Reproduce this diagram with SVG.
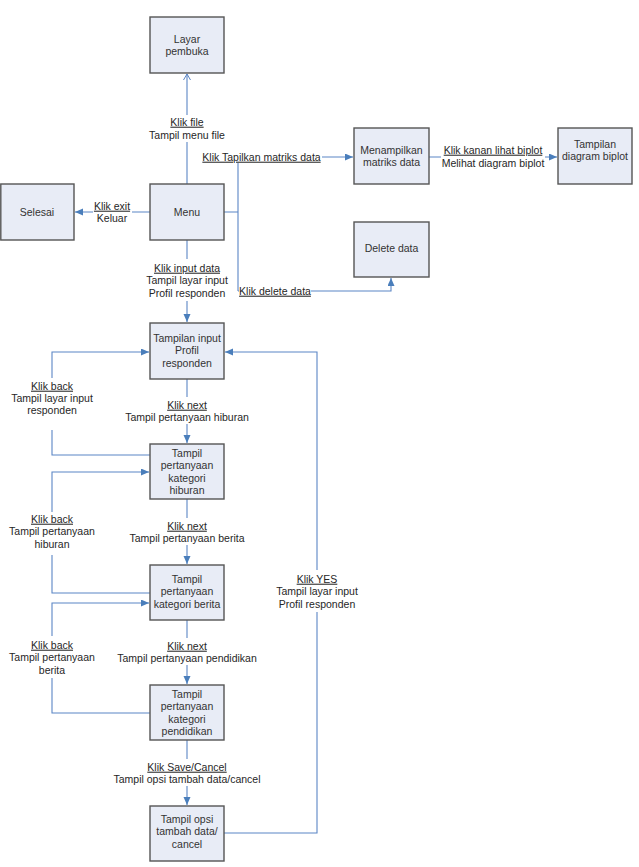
<svg xmlns="http://www.w3.org/2000/svg" width="639" height="867" viewBox="0 0 639 867">
<defs>
<style>
.box{fill:#E8ECF6;stroke:#555555;stroke-width:1.4}
.bt{font-family:"Liberation Sans",Arial,sans-serif;font-size:10.5px;fill:#333333;text-anchor:middle}
.lt{font-family:"Liberation Sans",Arial,sans-serif;font-size:10.5px;fill:#262626;text-anchor:middle}
.u{text-decoration:underline}
.c{fill:none;stroke:#5B86C5;stroke-width:1.1}
.bg{fill:#FFFFFF}
</style>
<marker id="ah" markerUnits="userSpaceOnUse" markerWidth="9" markerHeight="8" refX="8" refY="3.5" orient="auto">
<path d="M0,0 L8,3.5 L0,7 z" fill="#4A7EBB"/>
</marker>
<marker id="ao" markerUnits="userSpaceOnUse" markerWidth="9" markerHeight="9" refX="7" refY="4" orient="auto">
<path d="M1,0.5 L7,4 L1,7.5" fill="none" stroke="#5B86C5" stroke-width="1"/>
</marker>
</defs>
<rect width="639" height="867" fill="#FFFFFF"/>
<g id="connectors">
<path class="c" d="M187,184 V74" marker-end="url(#ao)"/>
<path class="c" d="M150,212 H75" marker-end="url(#ah)"/>
<path class="c" d="M224,212 H238 M238,291 V157 H353" marker-end="url(#ah)"/>
<path class="c" d="M238,291 H391 V278" marker-end="url(#ah)"/>
<path class="c" d="M429,157 H557" marker-end="url(#ah)"/>
<path class="c" d="M187,240 V322" marker-end="url(#ah)"/>
<path class="c" d="M187,379 V443" marker-end="url(#ah)"/>
<path class="c" d="M187,499 V564" marker-end="url(#ah)"/>
<path class="c" d="M187,620 V684" marker-end="url(#ah)"/>
<path class="c" d="M187,740 V805" marker-end="url(#ah)"/>
<path class="c" d="M150,455 H52 V352 H149" marker-end="url(#ah)"/>
<path class="c" d="M150,593 H52 V472 H149" marker-end="url(#ah)"/>
<path class="c" d="M150,713 H52 V603 H149" marker-end="url(#ah)"/>
<path class="c" d="M224,833 H317 V352 H225" marker-end="url(#ah)"/>
</g>
<g id="labels">
<rect class="bg" x="149" y="115" width="77" height="27"/>
<text class="lt u" x="187" y="125.7">Klik file</text>
<text class="lt" x="187" y="138.7">Tampil menu file</text>
<rect class="bg" x="93" y="199" width="39" height="26"/>
<text class="lt u" x="112" y="209.7">Klik exit</text>
<text class="lt" x="112" y="221.7">Keluar</text>
<rect class="bg" x="201" y="150" width="121" height="13"/>
<text class="lt u" x="261.5" y="160.7">Klik Tapilkan matriks data</text>
<rect class="bg" x="441" y="143" width="104" height="27"/>
<text class="lt u" x="493" y="153.7">Klik kanan lihat biplot</text>
<text class="lt" x="493" y="166.7">Melihat diagram biplot</text>
<rect class="bg" x="239" y="284" width="72" height="13"/>
<text class="lt u" x="275" y="294.7">Klik delete data</text>
<rect class="bg" x="146" y="259" width="84" height="42"/>
<text class="lt u" x="187" y="271.7">Klik input data</text>
<text class="lt" x="187" y="284.2">Tampil layar input</text>
<text class="lt" x="187" y="296.7">Profil responden</text>
<rect class="bg" x="125" y="397" width="125" height="27"/>
<text class="lt u" x="187" y="408.7">Klik next</text>
<text class="lt" x="187" y="420.7">Tampil pertanyaan hiburan</text>
<rect class="bg" x="128" y="518" width="118" height="27"/>
<text class="lt u" x="187" y="529.7">Klik next</text>
<text class="lt" x="187" y="541.7">Tampil pertanyaan berita</text>
<rect class="bg" x="117" y="638" width="141" height="27"/>
<text class="lt u" x="187" y="649.7">Klik next</text>
<text class="lt" x="187" y="661.7">Tampil pertanyaan pendidikan</text>
<rect class="bg" x="113" y="759" width="149" height="27"/>
<text class="lt u" x="187" y="770.7">Klik Save/Cancel</text>
<text class="lt" x="187" y="782.7">Tampil opsi tambah data/cancel</text>
<rect class="bg" x="10" y="378" width="84" height="52"/>
<text class="lt u" x="52" y="389.7">Klik back</text>
<text class="lt" x="52" y="401.7">Tampil layar input</text>
<text class="lt" x="52" y="413.7">responden</text>
<rect class="bg" x="8" y="512" width="88" height="43"/>
<text class="lt u" x="52" y="522.7">Klik back</text>
<text class="lt" x="52" y="535.2">Tampil pertanyaan</text>
<text class="lt" x="52" y="547.7">hiburan</text>
<rect class="bg" x="8" y="636" width="88" height="42"/>
<text class="lt u" x="52" y="648.7">Klik back</text>
<text class="lt" x="52" y="661.2">Tampil pertanyaan</text>
<text class="lt" x="52" y="673.7">berita</text>
<rect class="bg" x="275" y="570" width="85" height="42"/>
<text class="lt u" x="317" y="582.7">Klik YES</text>
<text class="lt" x="317" y="595.2">Tampil layar input</text>
<text class="lt" x="317" y="607.7">Profil responden</text>
</g>
<g id="layar-pembuka">
<rect class="box" x="150" y="17" width="74" height="56"/>
<text class="bt" x="187" y="42.7">Layar</text>
<text class="bt" x="187" y="55.2">pembuka</text>
</g>
<g id="menu">
<rect class="box" x="150" y="184" width="74" height="56"/>
<text class="bt" x="187" y="215.7">Menu</text>
</g>
<g id="selesai">
<rect class="box" x="0.8" y="184" width="73.2" height="56"/>
<text class="bt" x="37" y="215.7">Selesai</text>
</g>
<g id="menampilkan-matriks">
<rect class="box" x="354" y="128" width="75" height="56"/>
<text class="bt" x="391.5" y="153.7">Menampilkan</text>
<text class="bt" x="391.5" y="165.7">matriks data</text>
</g>
<g id="tampilan-biplot">
<rect class="box" x="558" y="128" width="74" height="56"/>
<text class="bt" x="595" y="147.7">Tampilan</text>
<text class="bt" x="595" y="159.7">diagram biplot</text>
</g>
<g id="delete-data">
<rect class="box" x="354" y="222" width="75" height="55"/>
<text class="bt" x="391.5" y="251.7">Delete data</text>
</g>
<g id="input-profil">
<rect class="box" x="150" y="323" width="74" height="56"/>
<text class="bt" x="187" y="341.7">Tampilan input</text>
<text class="bt" x="187" y="354.2">Profil</text>
<text class="bt" x="187" y="366.7">responden</text>
</g>
<g id="kategori-hiburan">
<rect class="box" x="150" y="444" width="74" height="55"/>
<text class="bt" x="187" y="456.7">Tampil</text>
<text class="bt" x="187" y="469.2">pertanyaan</text>
<text class="bt" x="187" y="481.7">kategori</text>
<text class="bt" x="187" y="494.2">hiburan</text>
</g>
<g id="kategori-berita">
<rect class="box" x="150" y="565" width="74" height="55"/>
<text class="bt" x="187" y="582.7">Tampil</text>
<text class="bt" x="187" y="595.2">pertanyaan</text>
<text class="bt" x="187" y="607.7">kategori berita</text>
</g>
<g id="kategori-pendidikan">
<rect class="box" x="150" y="685" width="74" height="55"/>
<text class="bt" x="187" y="697.7">Tampil</text>
<text class="bt" x="187" y="710.2">pertanyaan</text>
<text class="bt" x="187" y="722.7">kategori</text>
<text class="bt" x="187" y="735.2">pendidikan</text>
</g>
<g id="opsi-tambah">
<rect class="box" x="150" y="806" width="74" height="55"/>
<text class="bt" x="187" y="822.7">Tampil opsi</text>
<text class="bt" x="187" y="835.2">tambah data/</text>
<text class="bt" x="187" y="847.7">cancel</text>
</g>
</svg>
